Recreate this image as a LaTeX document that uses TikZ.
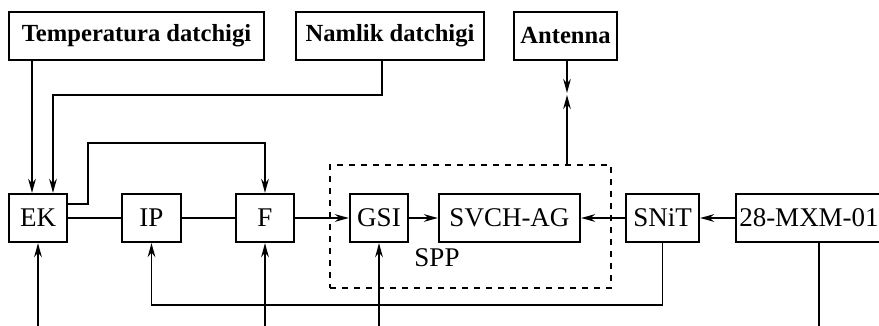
\documentclass[tikz,border=0pt]{standalone}
\usepackage{fontspec}
\setmainfont{Liberation Serif}
\usetikzlibrary{arrows.meta}

\tikzset{
  blok/.style={draw, line width=1.1pt, inner sep=0pt, minimum height=24pt,
    font=\fontsize{13.5}{15}\selectfont},
  sensor/.style={blok, font=\fontsize{12.3}{14}\selectfont\bfseries},
  wire/.style={line width=0.9pt},
  arr/.style={wire, -{Stealth[length=7pt, width=3.8pt]}}
}

\begin{document}
\begin{tikzpicture}[x=0.5pt, y=-0.5pt]
  \clip (0,0) rectangle (879,326);

  % Define nodes
  \node[sensor, minimum width=127.5pt] (Temp) at (136.5,36) {Temperatura datchigi};
  \node[sensor, minimum width=94pt] (Namlik) at (390,36) {Namlik datchigi};
  \node[sensor, minimum width=51.5pt] (Antenna) at (565.5,36) {Antenna};

  \node[draw, dashed, line width=0.9pt, minimum width=140.5pt, minimum height=61.5pt] (SPP) at (470.5,226.5) {};
  \node[font=\fontsize{13.5}{15}\selectfont] (SPPlabel) at (437,258) {SPP};

  \node[blok, minimum width=29pt] (EK) at (38,218) {EK};
  \node[blok, minimum width=29.5pt] (IP) at (151.5,218) {IP};
  \node[blok, minimum width=29pt] (F) at (265,218) {F};
  \node[blok, minimum width=29pt] (GSI) at (379,218) {GSI};
  \node[blok, minimum width=70.5pt] (SVCH) at (509.5,218) {SVCH-AG};
  \node[blok, minimum width=36.5pt] (SNiT) at (662.5,218) {SNiT};
  \node[blok, minimum width=73pt] (MXM) at (809,218) {28-MXM-01};

  % Helper coordinates
  \coordinate (tx) at (32,0);
  \coordinate (nx) at (382,0);
  \coordinate (ny) at (53,95);
  \coordinate (loopy) at (0,204);
  \coordinate (loopc) at (88,143);
  \coordinate (am1) at (567,93);
  \coordinate (am2) at (567,95);
  \coordinate (fby) at (0,305);
  \coordinate (mx) at (819,0);
  \coordinate (bot) at (0,330);

  % Connect the nodes
  \draw[arr] (Temp.south -| tx) -- (EK.north -| tx);
  \draw[arr] (Namlik.south -| nx) |- (ny) -- (EK.north -| ny);
  \draw[arr] (EK.east |- loopy) -| (loopc) -| (F.north);
  \draw[arr] (Antenna.south -| am1) -- (am1);
  \draw[arr] (SPP.north -| am2) -- (am2);

  \draw[wire] (EK.east) -- (IP.west);
  \draw[wire] (IP.east) -- (F.west);
  \draw[arr] (F.east) -- (GSI.west);
  \draw[arr] (GSI.east) -- (SVCH.west);
  \draw[arr] (SNiT.west) -- (SVCH.east);
  \draw[arr] (MXM.west) -- (SNiT.east);

  \draw[arr] (SNiT.south) |- (IP.south |- fby) -- (IP.south);
  \draw[arr] (EK.south |- bot) -- (EK.south);
  \draw[arr] (F.south |- bot) -- (F.south);
  \draw[arr] (GSI.south |- bot) -- (GSI.south);
  \draw[wire] (MXM.south -| mx) -- (mx |- bot);
\end{tikzpicture}
\end{document}
